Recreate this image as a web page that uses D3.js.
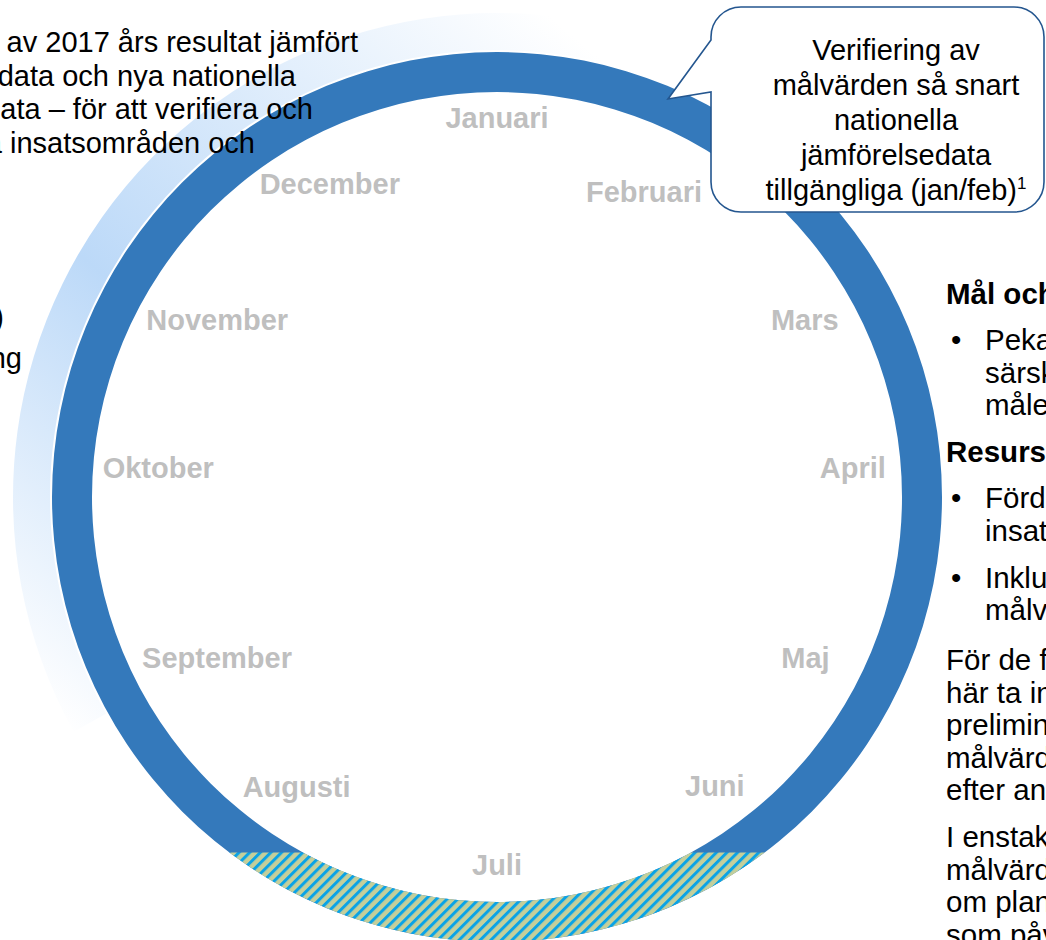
<!DOCTYPE html>
<html>
<head>
<meta charset="utf-8">
<script src="https://cdn.jsdelivr.net/npm/d3@7"></script>
<style>
  html, body { margin: 0; padding: 0; background: #ffffff; }
  svg { display: block; }
  text { font-family: "Liberation Sans", Arial, sans-serif; }
</style>
</head>
<body>
<svg id="chart" width="1046" height="940"></svg>
<script>
// ---------------- DATA ----------------
const months = ["Januari","Februari","Mars","April","Maj","Juni","Juli","Augusti","September","Oktober","November","December"];
const hatchedMonths = ["Juli"];
const bubbleLines = ["Verifiering av","målvärden så snart","nationella","jämförelsedata","tillgängliga (jan/feb)"];
const bubbleFootnote = "1";
const leftTopLines = ["Genomgång av 2017 års resultat jämfört","med tidigare års data och nya nationella","jämförelsedata – för att verifiera och","justera insatsområden och"];
const leftMidLines = ["nya målvärden (2018)","och uppföljning"];
const rightBlocks = [
  {type:"head", text:"Mål och målvärden"},
  {type:"bullet", lines:["Peka ut insatsområden som","särskilt bidrar till att nå","målen"]},
  {type:"head", text:"Resursfördelning"},
  {type:"bullet", lines:["Fördela resurser mellan","insatsområden"]},
  {type:"bullet", lines:["Inkludera kostnader för att nå","målvärden"]},
  {type:"para", lines:["För de flesta kommuner går det att","här ta in de nya nationella","preliminära jämförelsedata och sätta","målvärden för 2018 redan i januari","efter analys"]},
  {type:"para", lines:["I enstaka fall kan det behövas","målvärden som justeras beroende","om planerna förändras av faktorer","som påverkar resultaten"]}
];

// ---------------- LAYOUT ----------------
const W = 1046, H = 940;
const cx = 497, cy = 497;
const rIn = 405, rOut = 445;
const glowIn = 447, glowOut = 484;
const ringColor = "#3479bb";
const labelColor = "#bfbfbf";
// polar placement of month labels (degrees clockwise from top, radius)
const labelAngle = [0, 25.7, 60.1, 85.3, 117.6, 143, 180, 214.7, 240.1, 274.9, 302.3, 331.9];
const labelRadius = [379, 339, 355, 357, 348, 362, 368, 352, 323, 340, 331, 355];
const hatchHalfSpan = 37; // degrees either side of the hatched month centre

const svg = d3.select("#chart");
const defs = svg.append("defs");

// gradient for the light outer arc
const grad = defs.append("linearGradient")
  .attr("id","glow").attr("gradientUnits","userSpaceOnUse")
  .attr("x1",640).attr("y1",15).attr("x2",70).attr("y2",690);
grad.append("stop").attr("offset",0).attr("stop-color","#ffffff");
grad.append("stop").attr("offset",0.55).attr("stop-color","#bcd9f8");
grad.append("stop").attr("offset",0.97).attr("stop-color","#ffffff");

// hatch pattern
const pat = defs.append("pattern")
  .attr("id","hatch").attr("patternUnits","userSpaceOnUse")
  .attr("width",7.5).attr("height",7.5)
  .attr("patternTransform","rotate(45)");
pat.append("rect").attr("width",7.5).attr("height",7.5).attr("fill","#c4cf9b");
pat.append("rect").attr("x",0).attr("width",3).attr("height",7.5).attr("fill","#0aa3e6");

const angle = d3.scaleLinear().domain([0, 360]).range([0, 2*Math.PI]);

// light gradient arc (outer glow), drawn in absolute coordinates for the gradient
svg.append("path")
  .attr("d", d3.arc().innerRadius(glowIn).outerRadius(glowOut)
    .startAngle(angle(-119)).endAngle(angle(28))())
  .attr("transform",`translate(${cx},${cy})`)
  .attr("fill","url(#glow)");

const g = svg.append("g").attr("transform",`translate(${cx},${cy})`);

// main ring
const ringArc = d3.arc().innerRadius(rIn).outerRadius(rOut);
g.append("path")
  .attr("d", ringArc({startAngle:0, endAngle:2*Math.PI}))
  .attr("fill", ringColor);

// hatched segment with a horizontal cut
const chordY = rOut * Math.cos(angle(hatchHalfSpan));
defs.append("clipPath").attr("id","hclip")
  .append("rect").attr("x",-rOut-5).attr("y",chordY).attr("width",2*rOut+10).attr("height",rOut);
hatchedMonths.forEach(m => {
  const c = months.indexOf(m) * 30;
  g.append("path")
    .attr("d", ringArc({startAngle:angle(c-hatchHalfSpan-5), endAngle:angle(c+hatchHalfSpan+5)}))
    .attr("clip-path","url(#hclip)")
    .attr("fill","url(#hatch)");
});

// month labels
g.selectAll("text.month").data(months).join("text")
  .attr("class","month")
  .attr("x",(d,i)=> labelRadius[i]*Math.sin(angle(labelAngle[i])))
  .attr("y",(d,i)=> -labelRadius[i]*Math.cos(angle(labelAngle[i])))
  .attr("dy","0.35em")
  .attr("text-anchor","middle")
  .attr("font-size",29).attr("font-weight","bold")
  .attr("fill",labelColor)
  .text(d=>d);

// speech bubble
const bx0 = 711, bx1 = 1044, by0 = 7, by1 = 212, br = 30;
const tail = {top:40, bottom:92, tipX:668, tipY:99};
const bp = d3.path();
bp.moveTo(bx0+br, by0);
bp.lineTo(bx1-br, by0);
bp.arcTo(bx1, by0, bx1, by0+br, br);
bp.lineTo(bx1, by1-br);
bp.arcTo(bx1, by1, bx1-br, by1, br);
bp.lineTo(bx0+br, by1);
bp.arcTo(bx0, by1, bx0, by1-br, br);
bp.lineTo(bx0, tail.bottom);
bp.lineTo(tail.tipX, tail.tipY);
bp.lineTo(bx0, tail.top);
bp.lineTo(bx0, by0+br);
bp.arcTo(bx0, by0, bx0+br, by0, br);
bp.closePath();
svg.append("path").attr("d", bp.toString())
  .attr("fill","#ffffff").attr("stroke","#24568f").attr("stroke-width",1.6);

const bt = svg.append("text").attr("font-size",29).attr("fill","#000").attr("text-anchor","middle");
bubbleLines.forEach((l,i)=>{
  const t = bt.append("tspan").attr("x",896).attr("y",60 + i*35).text(l);
  if (i === bubbleLines.length-1) {
    t.append("tspan").attr("font-size",17).attr("dy",-11).text(bubbleFootnote);
  }
});

// left top text (cut by the left edge)
const leftEnds = [358, 296, 313, 255];
leftTopLines.forEach((l,i)=>{
  svg.append("text").attr("x",leftEnds[i]).attr("y",52 + i*33.7)
    .attr("text-anchor","end").attr("font-size",29).attr("fill","#000").text(l);
});
const midEnds = [4, 22];
leftMidLines.forEach((l,i)=>{
  svg.append("text").attr("x",midEnds[i]).attr("y",[327,368][i])
    .attr("text-anchor","end").attr("font-size",29).attr("fill","#000").text(l);
});

// right text block
const rx = 946, bulletX = 951, bulletTextX = 985, lh = 32.5, fs = 29.5;
let y = 304;
rightBlocks.forEach((b, bi)=>{
  if (b.type === "head") {
    svg.append("text").attr("x",rx).attr("y",y).attr("font-size",fs).attr("font-weight","bold").text(b.text);
    y += 46;
  } else if (b.type === "bullet") {
    svg.append("text").attr("x",bulletX).attr("y",y).attr("font-size",fs).text("•");
    b.lines.forEach((l,li)=>{
      svg.append("text").attr("x",bulletTextX).attr("y",y + li*lh).attr("font-size",fs).text(l);
    });
    y += (b.lines.length-1)*lh + 47;
  } else {
    b.lines.forEach((l,li)=>{
      svg.append("text").attr("x",rx).attr("y",y + li*lh).attr("font-size",fs).text(l);
    });
    y += (b.lines.length-1)*lh + 47;
  }
  if (rightBlocks[bi+1] && rightBlocks[bi+1].type === "para" && b.type !== "para") y += 3;
});
</script>
</body>
</html>
